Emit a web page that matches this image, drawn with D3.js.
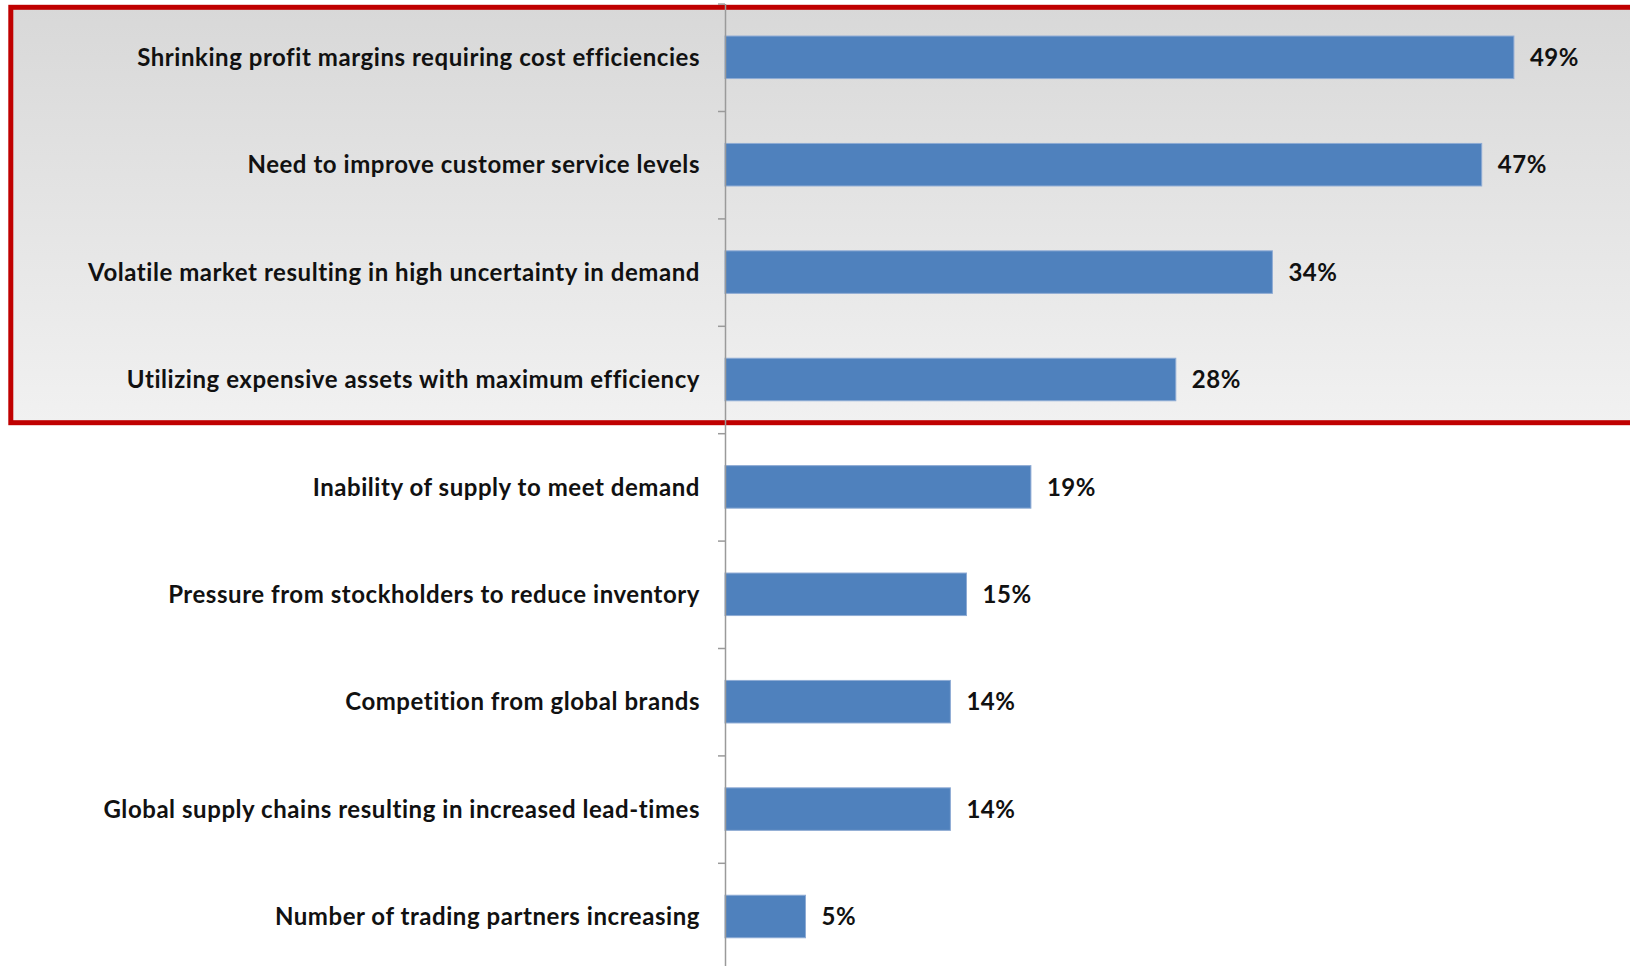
<!DOCTYPE html>
<html>
<head>
<meta charset="utf-8">
<script src="https://cdn.jsdelivr.net/npm/d3@7/dist/d3.min.js"></script>
<style>
  html, body { margin: 0; padding: 0; background: #ffffff; }
  svg { display: block; }
  text { font-family: Lato, "Open Sans", sans-serif; font-weight: 700; fill: #111111; letter-spacing: 0.55px; }
</style>
</head>
<body>
<svg id="chart" width="1630" height="966"></svg>
<script>
// Survey results: drivers of supply chain change (share of respondents)
const categories = [
  "Shrinking profit margins requiring cost efficiencies",
  "Need to improve customer service levels",
  "Volatile market resulting in high uncertainty in demand",
  "Utilizing expensive assets with maximum efficiency",
  "Inability of supply to meet demand",
  "Pressure from stockholders to reduce inventory",
  "Competition from global brands",
  "Global supply chains resulting in increased lead-times",
  "Number of trading partners increasing"
];
const values = [49, 47, 34, 28, 19, 15, 14, 14, 5];
// The first four drivers are called out with a highlight box
const highlighted = categories.slice(0, 4);

const W = 1630, H = 966;
const svg = d3.select("#chart");

const axisX = 725;
const x = d3.scaleLinear().domain([0, 50]).range([axisX, axisX + 50 * 16.1]);
const y = d3.scaleBand()
  .domain(categories)
  .range([3.6, 970.2])
  .paddingInner(0.604)
  .paddingOuter(0.302);

// Category boundaries, used for the tick marks between bars
const edge = d3.scaleLinear().domain([0, categories.length]).range(y.range());

// Highlight panel: vertical grey gradient framed in red
const defs = svg.append("defs");
const grad = defs.append("linearGradient")
  .attr("id", "panelFill").attr("x1", 0).attr("y1", 0).attr("x2", 0).attr("y2", 1);
grad.append("stop").attr("offset", "0%").attr("stop-color", "#d8d8d8");
grad.append("stop").attr("offset", "100%").attr("stop-color", "#f1f1f1");

const boxTop = edge(0) + 3.7;
const boxBottom = edge(highlighted.length) - 10.5;
svg.append("rect")
  .attr("x", 10.8).attr("y", boxTop)
  .attr("width", W + 20).attr("height", boxBottom - boxTop)
  .attr("fill", "url(#panelFill)")
  .attr("stroke", "#c00000")
  .attr("stroke-width", 5);

// Bars
svg.append("g").selectAll("rect")
  .data(values)
  .join("rect")
  .attr("x", x(0))
  .attr("y", (d, i) => y(categories[i]))
  .attr("width", d => x(d) - x(0))
  .attr("height", y.bandwidth())
  .attr("fill", "#4f81bd")
  .attr("stroke", "#8eabd4")
  .attr("stroke-width", 1);

// Value labels
svg.append("g").selectAll("text")
  .data(values)
  .join("text")
  .attr("x", d => x(d) + 16)
  .attr("y", (d, i) => y(categories[i]) + y.bandwidth() / 2)
  .attr("dy", "0.36em")
  .attr("font-size", 24)
  .text(d => d + "%");

// Category axis: line with ticks between categories
const axis = svg.append("g")
  .attr("transform", `translate(${axisX},0)`)
  .call(d3.axisLeft(edge)
    .tickValues(d3.range(0, categories.length))
    .tickFormat("")
    .tickSize(7)
    .tickSizeOuter(0));
axis.select(".domain").attr("stroke", "#9a9a9a").attr("stroke-width", 1.5);
axis.selectAll(".tick line").attr("stroke", "#9a9a9a").attr("stroke-width", 1.5);

// Category labels, right-aligned against the axis
svg.append("g").selectAll("text")
  .data(categories)
  .join("text")
  .attr("x", axisX - 25)
  .attr("y", d => y(d) + y.bandwidth() / 2)
  .attr("dy", "0.36em")
  .attr("text-anchor", "end")
  .attr("font-size", 24)
  .text(d => d);
</script>
</body>
</html>
